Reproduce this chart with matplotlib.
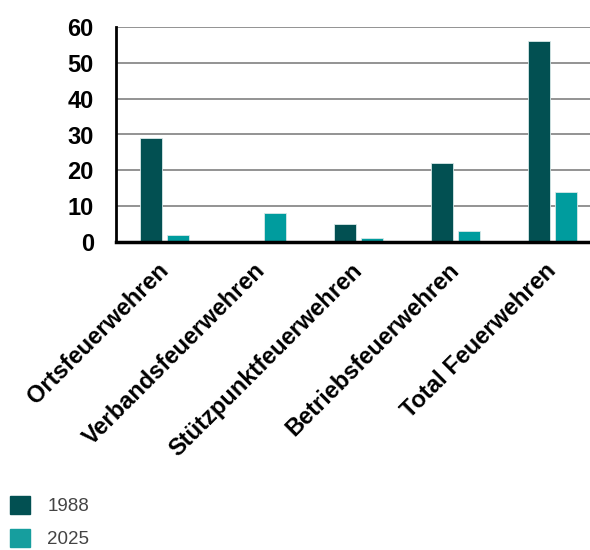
import matplotlib.pyplot as plt
import matplotlib.transforms as mtransforms
import numpy as np

plt.rcParams['font.family'] = ['Liberation Sans', 'DejaVu Sans']

categories = ["Ortsfeuerwehren", "Verbandsfeuerwehren", "Stützpunktfeuerwehren",
              "Betriebsfeuerwehren", "Total Feuerwehren"]
years = ["1988", "2025"]
values_1988 = [29, 0, 5, 22, 56]
values_2025 = [2, 8, 1, 3, 14]
yticks = [0, 10, 20, 30, 40, 50, 60]

color_1988 = "#025052"
color_2025 = "#009c9e"

fig = plt.figure(figsize=(5.9, 5.5), dpi=100)
ax = fig.add_axes([116 / 590, 308 / 550, 485 / 590, 215 / 550])

x = np.arange(len(categories))
w = 0.225
ax.bar(x - 0.14, values_1988, w, color=color_1988, edgecolor="#d8e8e8",
       linewidth=0.6, label=years[0], zorder=3)
ax.bar(x + 0.14, values_2025, w, color=color_2025, edgecolor="#d8e8e8",
       linewidth=0.6, label=years[1], zorder=3)

ax.set_xlim(-0.5, 4.5)
ax.set_ylim(0, 60)
ax.set_yticks(yticks)
ax.set_yticklabels([str(t) for t in yticks], fontsize=17, fontweight="bold")
ax.yaxis.grid(True, color="#8a8a8a", linewidth=1.3, zorder=0)
ax.set_axisbelow(True)

ax.set_xticks(x)
ax.set_xticklabels(categories, rotation=45, ha="right", rotation_mode="anchor",
                   fontsize=17, fontweight="bold")
ax.tick_params(axis="y", length=0, pad=16)
ax.tick_params(axis="x", length=0, pad=12)

# nudge the rotated labels a bit to the left
shift = mtransforms.ScaledTranslation(-8 / 100, 0, fig.dpi_scale_trans)
for lab in ax.get_xticklabels():
    lab.set_transform(lab.get_transform() + shift)

for s in ["top", "right"]:
    ax.spines[s].set_visible(False)
ax.spines["left"].set_linewidth(2)
ax.spines["bottom"].set_linewidth(2.5)
ax.spines["bottom"].set_zorder(4)

leg_handles = [plt.Rectangle((0, 0), 1, 1, color=color_1988),
               plt.Rectangle((0, 0), 1, 1, color="#169e9e")]
fig.legend(leg_handles, years, loc="upper left",
           bbox_to_anchor=(10 / 590, (550 - 496) / 550),
           frameon=False, fontsize=13.5, labelcolor="#444444",
           handlelength=1.05, handleheight=1.1, handletextpad=0.95,
           labelspacing=0.72, borderpad=0, borderaxespad=0)

fig.savefig("out.png", dpi=100)
